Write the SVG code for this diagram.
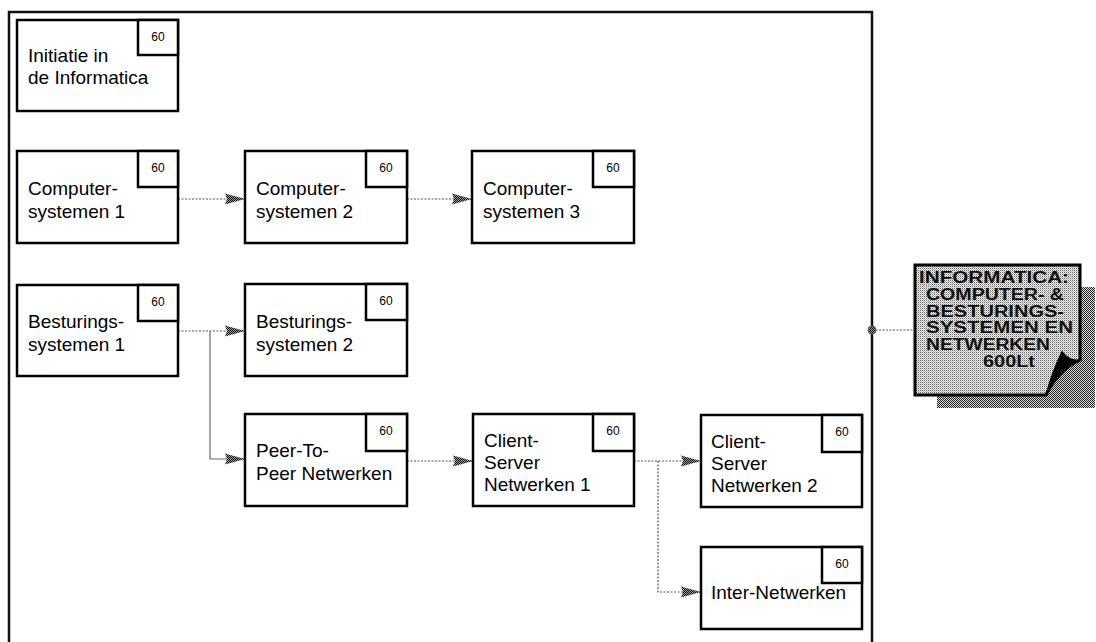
<svg xmlns="http://www.w3.org/2000/svg" width="1096" height="642" viewBox="0 0 1096 642">
<style>
.box{fill:#fff;stroke:#000;stroke-width:2.5}
.cb{fill:#fff;stroke:#000;stroke-width:2.5}
.t{font-family:"Liberation Sans",Arial,sans-serif;font-size:19px;fill:#000}
.n{font-family:"Liberation Sans",Arial,sans-serif;font-size:12px;fill:#000;text-anchor:middle}
.dc{fill:none;stroke:#555;stroke-width:1.2;stroke-dasharray:2 1.5}
.sc{fill:none;stroke:#666;stroke-width:1.2}
.big{font-family:"Liberation Sans",Arial,sans-serif;font-size:16px;font-weight:bold;fill:#111}
</style>
<defs>
<pattern id="stip" width="2" height="2" patternUnits="userSpaceOnUse"><rect width="2" height="2" fill="#ddd"/><rect width="1" height="1" fill="#222"/><rect x="1" y="1" width="1" height="1" fill="#222"/></pattern>
<pattern id="dark" width="2" height="2" patternUnits="userSpaceOnUse"><rect width="2" height="2" fill="#999"/><rect width="1" height="1" fill="#111"/><rect x="1" y="1" width="1" height="1" fill="#111"/></pattern>
<pattern id="light" width="2" height="2" patternUnits="userSpaceOnUse"><rect width="2" height="2" fill="#eee"/><rect width="1" height="1" fill="#666"/><rect x="1" y="1" width="1" height="1" fill="#bbb"/></pattern>
<marker id="ah" markerWidth="20" markerHeight="12" refX="20" refY="6" orient="auto" markerUnits="userSpaceOnUse"><path d="M0,0.5 L20,6 L0,11.5 L2,6 Z" fill="url(#dark)"/></marker>
</defs>
<rect width="1096" height="642" fill="#fff"/>
<g id="frame"><path d="M9,650 V12 H872 V650" fill="none" stroke="#111" stroke-width="2.5"/></g>

<g id="connectors">
<path class="dc" d="M178,199 H245" marker-end="url(#ah)"/>
<path class="dc" d="M407,199 H472" marker-end="url(#ah)"/>
<path class="dc" d="M178,331 H245" marker-end="url(#ah)"/>
<path class="sc" d="M210,331 V459 H245" marker-end="url(#ah)"/>
<path class="dc" d="M407,461 H473" marker-end="url(#ah)"/>
<path class="dc" d="M634,461 H701" marker-end="url(#ah)"/>
<path class="dc" d="M658,461 V592 H701" marker-end="url(#ah)"/>
<path class="dc" d="M872,330 H915"/>
<circle cx="872" cy="330" r="4" fill="url(#dark)" stroke="#555" stroke-width="0.8"/>
</g>

<g id="n-initiatie">
<rect class="box" x="17" y="20" width="161" height="91"/>
<rect class="cb" x="138" y="20" width="40" height="35"/>
<text class="n" x="158" y="41">60</text>
<text class="t" x="28" y="62">Initiatie in</text>
<text class="t" x="28" y="84">de Informatica</text>
</g>

<g id="n-cs1">
<rect class="box" x="17" y="151" width="161" height="92"/>
<rect class="cb" x="138" y="151" width="40" height="36"/>
<text class="n" x="158" y="172">60</text>
<text class="t" x="28" y="195">Computer-</text>
<text class="t" x="28" y="218">systemen 1</text>
</g>

<g id="n-cs2">
<rect class="box" x="245" y="151" width="162" height="92"/>
<rect class="cb" x="366" y="151" width="41" height="36"/>
<text class="n" x="386" y="172">60</text>
<text class="t" x="256" y="195">Computer-</text>
<text class="t" x="256" y="218">systemen 2</text>
</g>

<g id="n-cs3">
<rect class="box" x="472" y="151" width="162" height="92"/>
<rect class="cb" x="593" y="151" width="41" height="36"/>
<text class="n" x="613" y="172">60</text>
<text class="t" x="483" y="195">Computer-</text>
<text class="t" x="483" y="218">systemen 3</text>
</g>

<g id="n-bs1">
<rect class="box" x="17" y="285" width="161" height="91"/>
<rect class="cb" x="138" y="285" width="40" height="36"/>
<text class="n" x="158" y="306">60</text>
<text class="t" x="28" y="328">Besturings-</text>
<text class="t" x="28" y="351">systemen 1</text>
</g>

<g id="n-bs2">
<rect class="box" x="245" y="284" width="162" height="92"/>
<rect class="cb" x="366" y="284" width="41" height="36"/>
<text class="n" x="386" y="305">60</text>
<text class="t" x="256" y="328">Besturings-</text>
<text class="t" x="256" y="351">systemen 2</text>
</g>

<g id="n-peer">
<rect class="box" x="245" y="414" width="162" height="92"/>
<rect class="cb" x="366" y="414" width="41" height="37"/>
<text class="n" x="386" y="435">60</text>
<text class="t" x="256" y="457">Peer-To-</text>
<text class="t" x="256" y="480">Peer Netwerken</text>
</g>

<g id="n-csn1">
<rect class="box" x="473" y="414" width="161" height="92"/>
<rect class="cb" x="593" y="414" width="41" height="37"/>
<text class="n" x="613" y="435">60</text>
<text class="t" x="484" y="447">Client-</text>
<text class="t" x="484" y="469">Server</text>
<text class="t" x="484" y="491">Netwerken 1</text>
</g>

<g id="n-csn2">
<rect class="box" x="701" y="415" width="161" height="92"/>
<rect class="cb" x="822" y="415" width="40" height="37"/>
<text class="n" x="842" y="436">60</text>
<text class="t" x="711" y="448">Client-</text>
<text class="t" x="711" y="470">Server</text>
<text class="t" x="711" y="492">Netwerken 2</text>
</g>

<g id="n-inter">
<rect class="box" x="701" y="547" width="161" height="82"/>
<rect class="cb" x="822" y="547" width="40" height="36"/>
<text class="n" x="842" y="568">60</text>
<text class="t" x="711" y="599">Inter-Netwerken</text>
</g>

<g id="n-informatica">
<rect x="937" y="287" width="158" height="121" fill="url(#stip)"/>
<path d="M915,265 H1080 V360 Q1058,370 1046,395 H915 Z" fill="url(#light)" stroke="#000" stroke-width="3"/>
<path d="M1046,395 Q1053,370 1062,352 Q1070,362 1080,360 Q1058,370 1046,395 Z" fill="#000" stroke="#000" stroke-width="1.5"/>
<text class="big" x="919" y="283" textLength="150" lengthAdjust="spacingAndGlyphs">INFORMATICA:</text>
<text class="big" x="926" y="300" textLength="138" lengthAdjust="spacingAndGlyphs">COMPUTER- &amp;</text>
<text class="big" x="926" y="317" textLength="138" lengthAdjust="spacingAndGlyphs">BESTURINGS-</text>
<text class="big" x="926" y="333" textLength="147" lengthAdjust="spacingAndGlyphs">SYSTEMEN EN</text>
<text class="big" x="926" y="350" textLength="124" lengthAdjust="spacingAndGlyphs">NETWERKEN</text>
<text class="big" x="983" y="367" textLength="52" lengthAdjust="spacingAndGlyphs">600Lt</text>
</g>
</svg>
